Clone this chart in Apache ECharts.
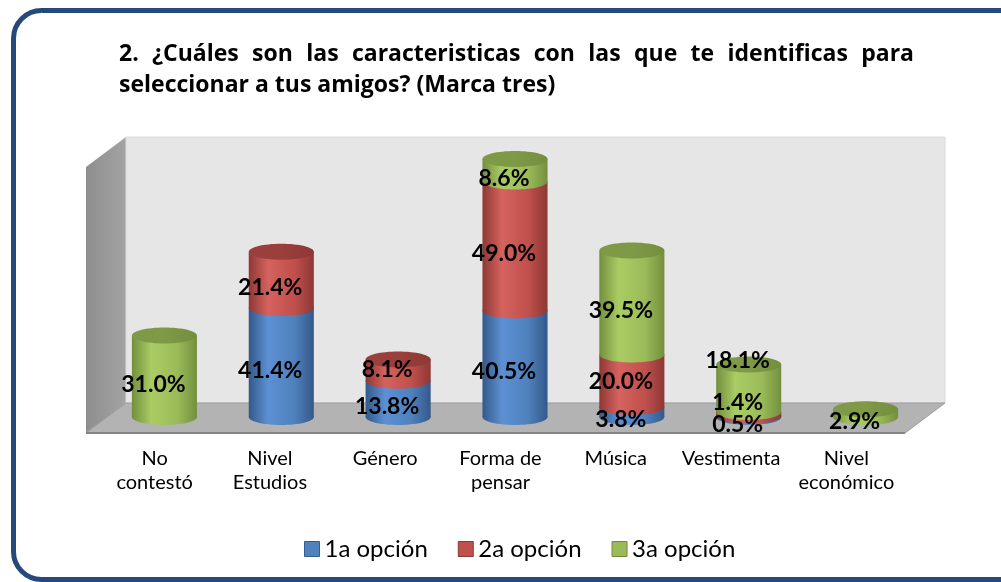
<!DOCTYPE html>
<html><head><meta charset="utf-8">
<script src="https://cdn.jsdelivr.net/npm/echarts@6/dist/echarts.min.js"></script>
<style>html,body{margin:0;padding:0;background:#fff}#c{width:1001px;height:582px}</style>
</head><body><div id="c"></div>
<script>
// ---- data ----
const categories = ['No\ncontestó','Nivel\nEstudios','Género','Forma de\npensar','Música','Vestimenta','Nivel\neconómico'];
const seriesNames = ['1a opción','2a opción','3a opción'];
const opcion1 = [0, 41.4, 13.8, 40.5, 3.8, 0.5, 0];
const opcion2 = [0, 21.4, 8.1, 49.0, 20.0, 1.4, 0];
const opcion3 = [31.0, 0, 0, 8.6, 39.5, 18.1, 2.9];
const titleLine1 = '2. ¿Cuáles son las caracteristicas con las que te identificas para';
const titleLine2 = 'seleccionar a tus amigos? (Marca tres)';

// ---- style ----
const allValues = [opcion1, opcion2, opcion3];
const palettes = [
  {base:'#4F81BD', light:'#5C90D3', dark:'#34598A', top:'#4A78B2', border:'#385D8A'},
  {base:'#C0504D', light:'#D5625E', dark:'#8E3835', top:'#9A3F3C', border:'#8C3836'},
  {base:'#9BBB59', light:'#AACC64', dark:'#738F3E', top:'#7E9A47', border:'#71893F'}
];
// label nudges (pixels) for labels moved apart in the original: [series][category]
const labelDy = {'1,2': -8, '1,4': -7, '1,5': -19, '2,5': -36};
const FONT = 'Lato';

function isTop(si, cat){
  for (let j = si+1; j < allValues.length; j++) if (allValues[j][cat] > 0) return false;
  return true;
}
function makeRenderItem(si){
  return function(params, api){
    const cat = api.value(0), val = api.value(1), base = api.value(2);
    if (!(val > 0)) return null;
    const p0 = api.coord([cat, base]), p1 = api.coord([cat, base + val]);
    const bw = api.size([1, 0])[0] * 0.557;
    const rx = bw / 2, ry = 8;
    const cx = p0[0], yb = p0[1], yt = p1[1];
    const pal = palettes[si];
    const grad = new echarts.graphic.LinearGradient(0,0,1,0,[
      {offset:0,color:pal.dark},{offset:0.3,color:pal.light},{offset:0.7,color:pal.base},{offset:1,color:pal.dark}]);
    const children = [
      {type:'ellipse', shape:{cx:cx, cy:yb, rx:rx, ry:ry}, style:{fill:grad}},
      {type:'rect', shape:{x:cx-rx, y:yt, width:bw, height:yb-yt}, style:{fill:grad}}
    ];
    if (isTop(si, cat)) {
      const tg = new echarts.graphic.LinearGradient(0,0,1,0,[
        {offset:0,color:pal.top},{offset:0.5,color:pal.top},{offset:1,color:pal.dark}]);
      children.push({type:'ellipse', shape:{cx:cx, cy:yt, rx:rx, ry:ry}, style:{fill:tg}});
    }
    const dy = labelDy[si + ',' + cat] || 0;
    children.push({type:'text', z2:100, style:{
      text: val.toFixed(1) + '%', x: cx - 11, y: (yt + yb) / 2 + 8 + dy,
      align:'center', verticalAlign:'middle', fill:'#000',
      font: 'bold 23px ' + FONT }});
    return {type:'group', children: children};
  };
}

const series = allValues.map(function(vals, si){
  return {
    type:'custom', name: seriesNames[si], xAxisIndex:0, yAxisIndex:0,
    renderItem: makeRenderItem(si),
    itemStyle:{color: palettes[si].base, borderColor: palettes[si].border, borderWidth:1},
    encode:{x:0, y:1},
    data: vals.map(function(v, i){
      let base = 0; for (let k = 0; k < si; k++) base += allValues[k][i];
      return [i, v, base];
    })
  };
});

// title words, line 1 justified
const ctx = document.createElement('canvas').getContext('2d');
const titleFont = 'bold 23px "Open Sans"';
ctx.font = titleFont;
const tLeft = 119, tRight = 914;
const words = titleLine1.split(' ');
const widths = words.map(function(w){ return ctx.measureText(w).width; });
const totalW = widths.reduce(function(a,b){return a+b;}, 0);
const gap = (tRight - tLeft - totalW) / (words.length - 1);
const titleGraphics = [];
let xx = tLeft;
words.forEach(function(w, i){
  titleGraphics.push({type:'text', x: xx, y: 54, style:{text:w, font:titleFont, fill:'#000', verticalAlign:'middle', align:'left'}});
  xx += widths[i] + gap;
});
titleGraphics.push({type:'text', x: tLeft, y: 85, style:{text:titleLine2, font:titleFont, fill:'#000', verticalAlign:'middle', align:'left'}});

const chart = echarts.init(document.getElementById('c'), null, {renderer:'canvas'});
chart.setOption({
  backgroundColor:'#fff',
  animation:false,
  graphic: [
    {type:'rect', z:-10, shape:{x:13.5, y:10.5, width:1100, height:569, r:28}, style:{fill:'#fff', stroke:'#24497A', lineWidth:5}},
    {type:'polygon', z:-5, shape:{points:[[86,167],[126,137],[126,403],[86,433]]},
      style:{fill:new echarts.graphic.LinearGradient(0,0,1,0,[{offset:0,color:'#8E8E8E'},{offset:1,color:'#A3A3A3'}])}},
    {type:'rect', z:-5, shape:{x:126, y:137, width:819, height:266}, style:{fill:'#E6E6E6', stroke:'#DADADA', lineWidth:1}},
    {type:'polygon', z:-5, shape:{points:[[126,403],[945,403],[905,433],[86,433]]}, style:{fill:'#B3B3B3', stroke:'#9C9C9C', lineWidth:1}},
    {type:'line', z:-4, shape:{x1:86, y1:433, x2:905, y2:433}, style:{stroke:'#858585', lineWidth:2}}
  ].concat(titleGraphics),
  legend: {
    left: 299, top: 532, itemWidth:15, itemHeight:15, itemGap:30, icon:'rect',
    textStyle:{fontFamily:FONT, fontSize:24, color:'#000'},
    data: seriesNames.map(function(n, i){ return {name:n, itemStyle:{color:palettes[i].base, borderColor:palettes[i].border, borderWidth:1}}; })
  },
  grid: [
    {left:106, right:77, top:154, bottom:165},
    {left:97, right:97, top:154, bottom:165}
  ],
  xAxis: [
    {type:'category', gridIndex:0, data:categories, axisLine:{show:false}, axisTick:{show:false}, axisLabel:{show:false}, splitLine:{show:false}},
    {type:'category', gridIndex:1, data:categories, axisLine:{show:false}, axisTick:{show:false}, splitLine:{show:false},
      axisLabel:{interval:0, margin:30, fontFamily:FONT, fontSize:20, lineHeight:24, color:'#000', align:'center'}}
  ],
  yAxis: [
    {type:'value', gridIndex:0, min:0, max:100, show:false},
    {type:'value', gridIndex:1, min:0, max:100, show:false}
  ],
  series: series
});
</script></body></html>
